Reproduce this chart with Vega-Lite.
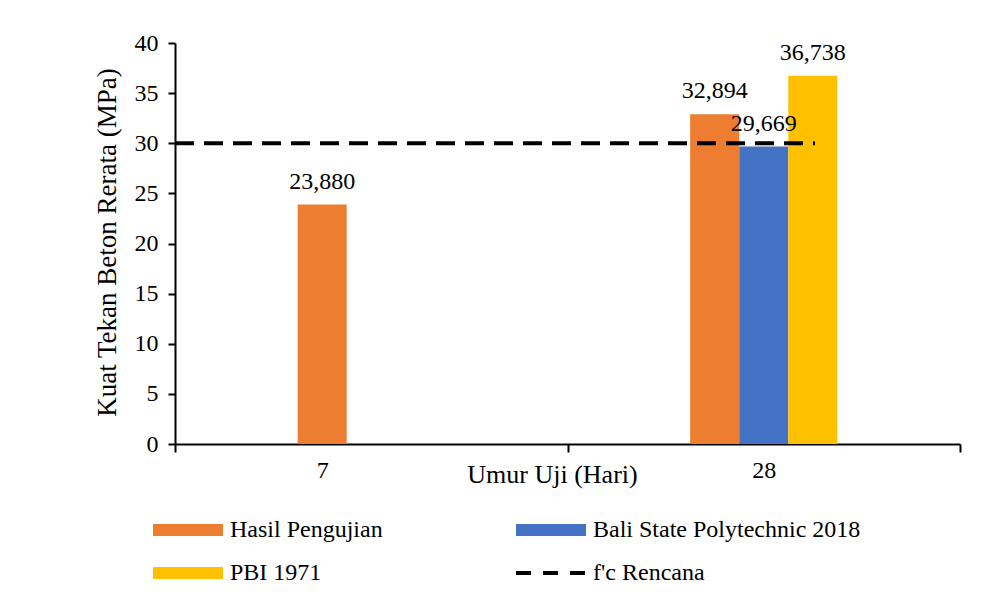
{
  "$schema": "https://vega.github.io/schema/vega-lite/v6.json",
  "width": 785,
  "height": 401,
  "autosize": {"type": "none"},
  "padding": {"left": 175, "top": 43, "right": 29, "bottom": 158},
  "background": "white",
  "config": {
    "font": "Times New Roman, Liberation Serif, DejaVu Serif, serif",
    "axis": {"labelFont": "Times New Roman, Liberation Serif, DejaVu Serif, serif", "titleFont": "Times New Roman, Liberation Serif, DejaVu Serif, serif"},
    "legend": {"labelFont": "Times New Roman, Liberation Serif, DejaVu Serif, serif"},
    "text": {"font": "Times New Roman, Liberation Serif, DejaVu Serif, serif"},
    "view": {"stroke": null},
    "locale": {"number": {"decimal": ",", "thousands": ".", "grouping": [3], "currency": ["", ""]}}
  },
  "datasets": {
    "bars": [
      {"umur": "7", "seri": "Hasil Pengujian", "nilai": 23.88},
      {"umur": "28", "seri": "Hasil Pengujian", "nilai": 32.894},
      {"umur": "28", "seri": "Bali State Polytechnic 2018", "nilai": 29.669},
      {"umur": "28", "seri": "PBI 1971", "nilai": 36.738}
    ],
    "rencana": [{"seri": "f'c Rencana", "nilai": 30}]
  },
  "layer": [
    {
      "data": {"name": "bars"},
      "mark": {"type": "bar"},
      "encoding": {
        "x": {
          "field": "umur", "type": "nominal", "sort": ["7", "28"],
          "scale": {"domain": ["7", "28"], "paddingInner": 0, "paddingOuter": 0},
          "axis": {
            "title": "Umur Uji (Hari)", "labelAngle": 0, "labelFontSize": 24, "labelColor": "black",
            "labelPadding": 6, "tickBand": "extent", "tickSize": 8, "tickWidth": 2, "tickColor": "black",
            "domainColor": "black", "domainWidth": 2,
            "labelOffset": {"condition": {"test": "datum.value === '7'", "value": -49}, "value": 0},
            "titleFontSize": 26, "titleFontWeight": "normal", "titleColor": "black",
            "titleX": 377, "titleY": 38, "titleBaseline": "alphabetic", "titleAlign": "center", "titleAnchor": "start"
          }
        },
        "xOffset": {
          "field": "seri", "type": "nominal",
          "scale": {"domain": ["·1", "·2", "Hasil Pengujian", "Bali State Polytechnic 2018", "PBI 1971", "·3", "·4"], "paddingInner": 0, "paddingOuter": 0.5}
        },
        "y": {
          "field": "nilai", "type": "quantitative",
          "scale": {"domain": [0, 40], "nice": false},
          "axis": {
            "title": "Kuat Tekan Beton Rerata (MPa)", "values": [0, 5, 10, 15, 20, 25, 30, 35, 40],
            "grid": false, "labelFontSize": 24, "labelColor": "black", "labelPadding": 10,
            "tickSize": 7, "tickWidth": 2, "tickColor": "black", "domainColor": "black", "domainWidth": 2,
            "titleFontSize": 27, "titleFontWeight": "normal", "titleColor": "black",
            "titleX": -68, "titleY": 199, "titleAngle": -90, "titleBaseline": "middle", "titleAlign": "center", "titleAnchor": "start"
          }
        },
        "color": {
          "field": "seri", "type": "nominal",
          "scale": {
            "domain": ["Hasil Pengujian", "Bali State Polytechnic 2018", "PBI 1971", "f'c Rencana"],
            "range": ["#ED7D31", "#4472C4", "#FFC000", "#000000"]
          },
          "legend": {
            "title": null, "orient": "none", "legendX": 1, "legendY": 475, "columns": 2, "direction": "horizontal",
            "symbolType": "stroke", "symbolSize": 4900, "symbolStrokeWidth": 12, "symbolOpacity": 1,
            "labelFontSize": 24, "labelColor": "black", "labelOffset": 30, "labelLimit": 400,
            "columnPadding": 109, "rowPadding": -5,
            "encode": {
              "symbols": {
                "update": {
                  "stroke": {"scale": "color", "field": "value"},
                  "strokeWidth": {"signal": "datum.value === \"f'c Rencana\" ? 4 : 12"},
                  "strokeDash": {"signal": "datum.value === \"f'c Rencana\" ? [15, 12] : []"}
                }
              }
            }
          }
        }
      }
    },
    {
      "data": {"name": "bars"},
      "mark": {"type": "text", "baseline": "alphabetic", "dy": -16, "fontSize": 24, "color": "black"},
      "encoding": {
        "x": {"field": "umur", "type": "nominal", "sort": ["7", "28"]},
        "xOffset": {"field": "seri", "type": "nominal"},
        "y": {"field": "nilai", "type": "quantitative"},
        "text": {"field": "nilai", "type": "quantitative", "format": ".3f"}
      }
    },
    {
      "data": {"name": "rencana"},
      "mark": {"type": "rule", "strokeDash": [19, 10], "strokeWidth": 4},
      "encoding": {
        "x": {"datum": "7", "type": "nominal", "bandPosition": 0},
        "x2": {"datum": "28", "bandPosition": 0.6305},
        "y": {"field": "nilai", "type": "quantitative"},
        "color": {"field": "seri", "type": "nominal"}
      }
    }
  ]
}
